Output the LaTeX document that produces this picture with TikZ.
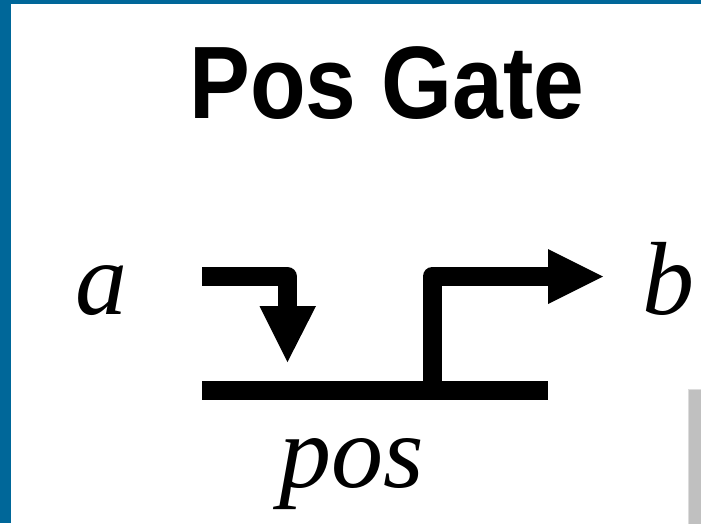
\documentclass[tikz,border=0pt]{standalone}
\usepackage{fontspec}
\setmainfont{Liberation Serif}
\newfontfamily\headfont{Liberation Sans}
\definecolor{frameblue}{RGB}{0,103,153}
\definecolor{panelgrey}{RGB}{192,192,192}
\definecolor{paneledge}{RGB}{220,220,220}
\begin{document}
\begin{tikzpicture}[x=1pt,y=-1pt,
  wire/.style={line width=19pt,line join=round,line cap=butt},
  head/.style={fill=black,draw=none},
  sym/.style={inner sep=0pt,anchor=base,font=\fontsize{104}{104}\selectfont\itshape},
  title/.style={inner sep=0pt,anchor=base,font=\fontsize{103}{103}\selectfont\headfont\bfseries,xscale=0.885}]
\useasboundingbox (0,0) rectangle (701,523);
\fill[white] (0,0) rectangle (701,523);
% frame bars
\fill[frameblue] (0,0) rectangle (11,523);
\fill[frameblue] (0,0) rectangle (701,4);
% grey panel at lower right
\fill[panelgrey,draw=paneledge,line width=1pt] (688.5,389.5) rectangle (702,524);

% title
\node[title] (ttl) at (387,118) {Pos Gate};

% labels
\node[sym] (la) at (101,314) {a};
\node[sym] (lb) at (668,314) {b};
\node[sym] (lpos) at (352,487) {pos};

% anchor points of the gate symbol
\coordinate (inStart) at (202,276.5);
\coordinate (inBend) at (287.5,276.5);
\coordinate (inHead) at (287.5,306);
\coordinate (inTip) at (287.5,362);
\coordinate (lineL) at (202,390.5);
\coordinate (lineR) at (548,390.5);
\coordinate (outFoot) at (432,390.5);
\coordinate (outBend) at (432,276.5);
\coordinate (outHead) at (548,276.5);
\coordinate (outTip) at (603,276.5);

% input arrow
\draw[wire] (inStart) -- (inBend) -- (inHead);
\fill[head] ([xshift=-28pt]inHead) -- ([xshift=28.5pt]inHead) -- (inTip) -- cycle;

% promoter line
\draw[wire] (lineL) -- (lineR);

% output arrow
\draw[wire] ([yshift=9.5pt]outFoot) -- (outBend) -- (outHead);
\fill[head] ([yshift=-27.5pt]outHead) -- ([yshift=27.5pt]outHead) -- (outTip) -- cycle;
\end{tikzpicture}
\end{document}
